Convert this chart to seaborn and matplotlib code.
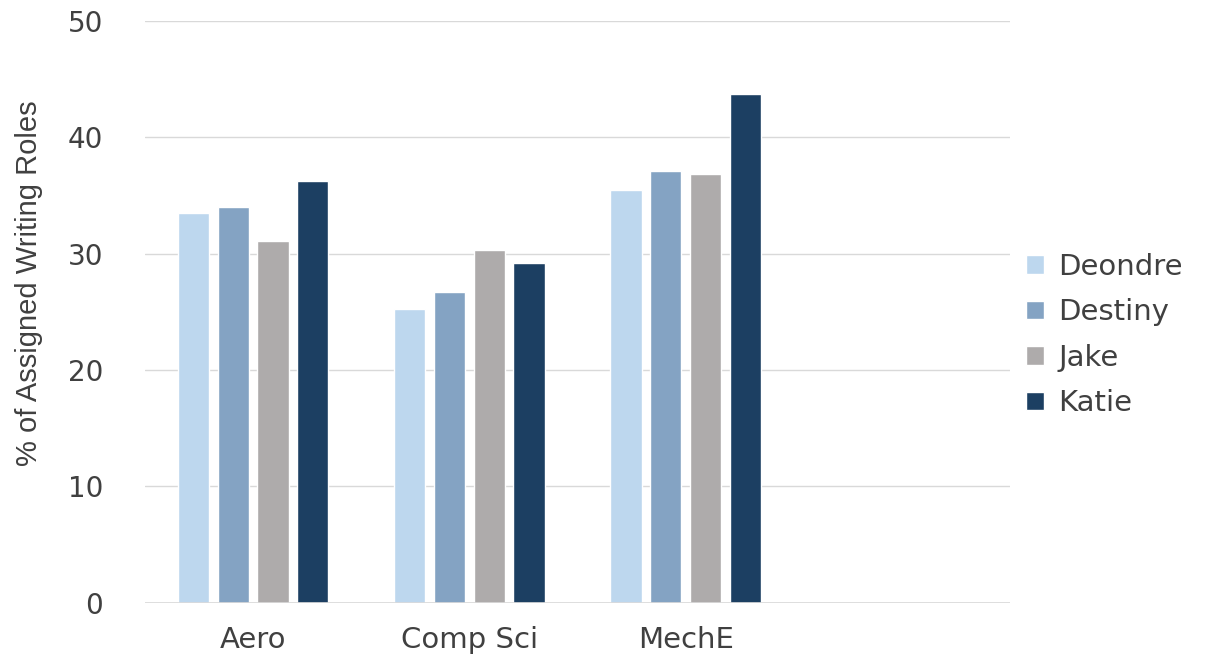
import matplotlib
matplotlib.use("Agg")
import matplotlib.pyplot as plt
import seaborn as sns
import pandas as pd

# Share of assigned writing roles per student, by major
majors = ["Aero", "Comp Sci", "MechE"]
students = ["Deondre", "Destiny", "Jake", "Katie"]
deondre = [33.5, 25.2, 35.5]
destiny = [34.0, 26.7, 37.1]
jake = [31.1, 30.3, 36.8]
katie = [36.2, 29.2, 43.7]
y_ticks = [0, 10, 20, 30, 40, 50]

colors = ["#BDD7EE", "#84A3C3", "#AEABAB", "#1C3F62"]

rows = []
for name, vals in zip(students, [deondre, destiny, jake, katie]):
    for major, v in zip(majors, vals):
        rows.append({"Major": major, "Student": name, "Pct": v})
df = pd.DataFrame(rows)

sns.set_theme(style="white")
plt.rcParams["font.family"] = ["DejaVu Sans"]

fig = plt.figure(figsize=(12.10, 6.59), dpi=100)
ax = fig.add_axes([0.1198, 0.0857, 0.7149, 0.8825])

sns.barplot(data=df, x="Major", y="Pct", hue="Student", order=majors,
            hue_order=students, palette=colors, errorbar=None,
            width=0.735, gap=0.215, saturation=1, ax=ax, zorder=2)

ax.set_xlim(-0.5, 3.5)
ax.set_ylim(0, 50)
ax.set_yticks(y_ticks)
ax.yaxis.grid(True, color="#D9D9D9", linewidth=1.0, zorder=0)
ax.set_axisbelow(True)
ax.axhline(0, color="#D9D9D9", linewidth=1.2, zorder=3)
for s in ax.spines.values():
    s.set_visible(False)
ax.tick_params(axis="both", length=0)
ax.tick_params(axis="y", pad=30, labelsize=20, labelcolor="#404040")
ax.tick_params(axis="x", pad=17, labelsize=21, labelcolor="#404040")
ax.set_xlabel("")
ax.set_ylabel("% of Assigned Writing Roles", fontsize=21, color="#404040",
              family="Liberation Sans")
ax.yaxis.set_label_coords(-0.118, 0.549)

leg = ax.legend(loc="center left", bbox_to_anchor=(0.988, 0.46), frameon=False,
                fontsize=21, handlelength=0.62, handleheight=0.62,
                handletextpad=0.5, labelspacing=0.6)
for t in leg.get_texts():
    t.set_color("#404040")

fig.savefig("out.png", dpi=100)
